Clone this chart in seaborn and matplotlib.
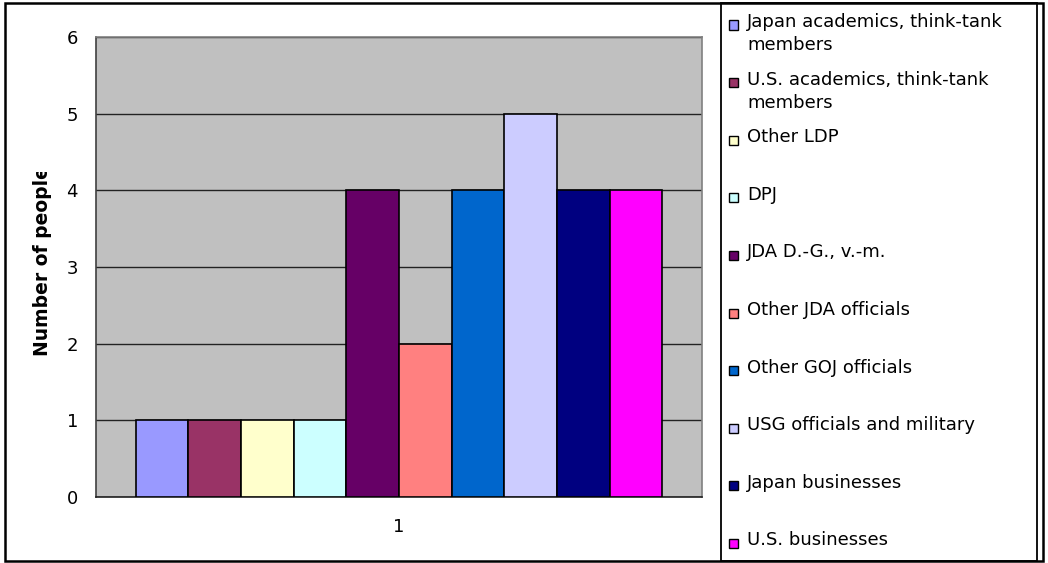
import matplotlib
matplotlib.use("Agg")
import matplotlib.pyplot as plt
from matplotlib.patches import Rectangle
from matplotlib.transforms import Bbox, TransformedBbox
import seaborn as sns
import pandas as pd

# Interviewees by affiliation (single group)
categories = [
    "Japan academics, think-tank\nmembers",
    "U.S. academics, think-tank\nmembers",
    "Other LDP",
    "DPJ",
    "JDA D.-G., v.-m.",
    "Other JDA officials",
    "Other GOJ officials",
    "USG officials and military",
    "Japan businesses",
    "U.S. businesses",
]
counts = [1, 1, 1, 1, 4, 2, 4, 5, 4, 4]
colors = ["#9999FF", "#993366", "#FFFFCC", "#CCFFFF", "#660066",
          "#FF8080", "#0066CC", "#CCCCFF", "#000080", "#FF00FF"]
group_labels = ["1"]
y_ticks = [0, 1, 2, 3, 4, 5, 6]

df = pd.DataFrame({
    "group": group_labels * len(categories),
    "category": categories,
    "count": counts,
})

sns.set_style("white")
plt.rcParams["font.family"] = ["DejaVu Sans"]
for key in ["text.color", "axes.labelcolor", "xtick.color", "ytick.color"]:
    plt.rcParams[key] = "black"

W, H = 1048, 563
fig = plt.figure(figsize=(W / 100, H / 100), dpi=100)


def fx(px):
    return px / W


def fy(py):
    return 1 - py / H


FS = 13

# plot area
left, right, top, bottom = 96, 702, 37, 497
ax = fig.add_axes([fx(left), fy(bottom), fx(right - left), (bottom - top) / H])
ax.set_facecolor("#C0C0C0")

sns.barplot(data=df, x="group", y="count", hue="category",
            hue_order=categories, palette=colors, saturation=1,
            width=10 / 11.5, edgecolor="black", linewidth=1.2,
            legend=False, ax=ax, zorder=3)

ax.set_xlim(-0.5, 0.5)
ax.set_ylim(0, 6)
ax.set_yticks(y_ticks)
ax.set_yticklabels([str(t) for t in y_ticks], fontsize=FS)
ax.yaxis.grid(True, color="#222222", linewidth=1, zorder=1)
ax.set_axisbelow(True)

ax.set_xlabel("")
ax.set_ylabel("")
ax.set_xticks([0])
ax.set_xticklabels(group_labels, fontsize=FS)
ax.tick_params(axis="x", which="major", length=0, pad=15)
ax.set_xticks([-0.5, 0.5], minor=True)
ax.tick_params(axis="x", which="minor", length=6, direction="out",
               color="#404040", width=1)
ax.tick_params(axis="y", length=7, direction="out", color="#404040",
               width=1, pad=6)

for side in ["top", "right"]:
    ax.spines[side].set_color("#808080")
    ax.spines[side].set_linewidth(1.2)
ax.spines["left"].set_color("#404040")
ax.spines["left"].set_linewidth(1.2)
ax.spines["bottom"].set_color("#202020")
ax.spines["bottom"].set_linewidth(1.2)

# y-axis title, clipped at the top of its slot
ylab = fig.text(fx(43), fy(356), "Number of people", rotation=90,
                ha="center", va="bottom", fontsize=13.5, fontweight="bold")
ylab.set_clip_box(TransformedBbox(Bbox([[0, 0], [1, fy(172)]]),
                                  fig.transFigure))
ylab.set_clip_on(True)

# outer chart border
fig.patches.append(Rectangle((fx(5), fy(561)), fx(1043 - 5), (561 - 3) / H,
                             transform=fig.transFigure, fill=False,
                             edgecolor="black", linewidth=1.8))
# legend box
fig.patches.append(Rectangle((fx(721), fy(561)), fx(1037 - 721), (561 - 3) / H,
                             transform=fig.transFigure, fill=False,
                             edgecolor="black", linewidth=1.3))

# legend entries
row_h = 57.6
first_row = 23
for i, (lab, col) in enumerate(zip(categories, colors)):
    cy = first_row + i * row_h
    fig.patches.append(Rectangle((fx(729), fy(cy + 6.5)), fx(9), 9 / H,
                                 transform=fig.transFigure, facecolor=col,
                                 edgecolor="black", linewidth=1))
    fig.text(fx(747), fy(cy - 10), lab, ha="left", va="top", fontsize=FS,
             linespacing=1.38)

fig.savefig("out.png", dpi=100)
